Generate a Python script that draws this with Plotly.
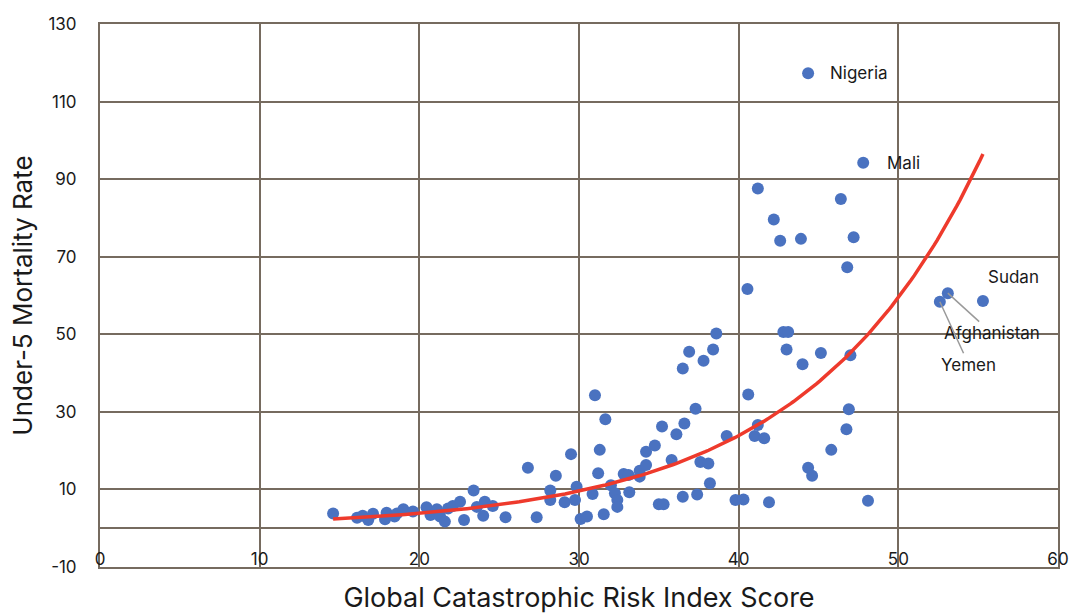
import numpy as np
import plotly.graph_objects as go

# Global Catastrophic Risk Index score vs under-5 mortality rate
gcri_score = [
    14.6, 16.1, 16.45, 16.8, 17.1, 17.85, 17.95, 18.45, 18.6, 19.0, 19.6,
    20.45, 20.7, 21.1, 21.3, 21.6, 21.8, 22.1, 22.55, 22.8, 23.4, 23.6, 24.0,
    24.1, 24.6, 25.4,
    26.8, 27.35, 28.55, 28.2, 28.2, 29.1, 29.5, 29.85, 29.75, 30.1, 30.5,
    31.0, 30.85, 31.3, 31.2, 31.65, 31.55, 32.0, 32.25, 32.4, 32.4, 32.8,
    33.15, 33.1, 33.8, 33.8, 34.2, 34.2, 34.75, 35.0, 35.3, 35.2, 35.8, 36.1,
    36.5, 36.5, 36.6, 36.9, 37.3, 37.4, 37.6, 37.8, 38.1, 38.2, 38.4, 38.6,
    39.25, 40.6, 41.2, 41.0, 41.6, 39.8, 40.3, 41.9, 42.8, 43.1, 43.0, 44.0,
    45.15, 47.0, 46.9, 46.75, 45.8, 44.35, 44.6, 48.1,
    41.2, 42.2, 42.6, 43.9, 46.4, 47.2, 46.8, 40.55,
    44.35, 47.8, 52.6, 53.1, 55.3,
]
u5_mortality = [
    3.8, 2.7, 3.2, 2.1, 3.7, 2.3, 4.0, 3.0, 3.8, 4.9, 4.3,
    5.4, 3.4, 4.9, 3.0, 1.7, 5.1, 5.7, 6.8, 2.1, 9.7, 5.5, 3.2,
    6.8, 5.7, 2.8,
    15.6, 2.8, 13.5, 9.7, 7.3, 6.7, 19.1, 10.7, 7.3, 2.4, 3.0,
    34.3, 8.8, 20.2, 14.2, 28.1, 3.6, 11.1, 9.0, 7.3, 5.5, 14.0,
    9.3, 13.7, 13.3, 14.8, 16.3, 19.7, 21.3, 6.2, 6.2, 26.2, 17.6, 24.2,
    8.1, 41.2, 27.0, 45.5, 30.8, 8.7, 17.1, 43.2, 16.7, 11.6, 46.1, 50.2,
    23.8, 34.5, 26.6, 23.8, 23.2, 7.3, 7.4, 6.7, 50.6, 50.6, 46.1, 42.3,
    45.2, 44.6, 30.7, 25.5, 20.2, 15.6, 13.5, 7.1,
    87.6, 79.6, 74.1, 74.6, 84.9, 75.0, 67.3, 61.7,
    117.3, 94.2, 58.4, 60.6, 58.6,
]

# Labelled countries
label_names = ["Nigeria", "Mali", "Sudan", "Afghanistan", "Yemen"]
label_x = [44.35, 47.8, 55.3, 53.1, 52.6]
label_y = [117.3, 94.2, 58.6, 60.6, 58.4]

x_ticks = [0, 10, 20, 30, 40, 50, 60]
y_ticks = [-10, 10, 30, 50, 70, 90, 110, 130]

# Exponential trendline (least squares on log y, as a spreadsheet trendline)
xs = np.array(gcri_score)
ys = np.array(u5_mortality)
b, ln_a = np.polyfit(xs, np.log(ys), 1)
trend_x = np.linspace(xs.min(), xs.max(), 200)
trend_y = np.exp(ln_a) * np.exp(b * trend_x)

FONT = "Inter, 'Noto Sans', sans-serif"
GRID = "#766b5f"
TXT = "#1a1a1a"

fig = go.Figure()
fig.add_trace(go.Scatter(
    x=gcri_score, y=u5_mortality, mode="markers",
    marker=dict(color="#4a72c0", size=12, line=dict(width=0)),
    showlegend=False, hoverinfo="x+y",
))
fig.add_trace(go.Scatter(
    x=trend_x, y=trend_y, mode="lines",
    line=dict(color="#ee3a2c", width=3.5),
    showlegend=False, hoverinfo="skip",
))

# text placements (pixel offsets from the point)
offsets = {
    "Nigeria": dict(showarrow=False, xanchor="left", xshift=20, yshift=0),
    "Mali": dict(showarrow=False, xanchor="left", xshift=22, yshift=0),
    "Sudan": dict(showarrow=False, xanchor="center", xshift=31, yshift=24),
    "Afghanistan": dict(showarrow=True, ax=44, ay=40),
    "Yemen": dict(showarrow=True, ax=29, ay=63),
}
for name, lx, ly in zip(label_names, label_x, label_y):
    kw = offsets[name]
    ann = dict(x=lx, y=ly, xref="x", yref="y", text=name,
               font=dict(family=FONT, size=17, color=TXT))
    if kw.get("showarrow"):
        ann.update(showarrow=True, ax=kw["ax"], ay=kw["ay"], arrowhead=0,
                   arrowwidth=1.5, arrowcolor="#9a9a9a", standoff=0,
                   startstandoff=0)
    else:
        ann.update(showarrow=False, xanchor=kw["xanchor"],
                   xshift=kw["xshift"], yshift=kw["yshift"])
    fig.add_annotation(**ann)

fig.update_layout(
    width=1071, height=614,
    margin=dict(l=100, r=13, t=24, b=47),
    paper_bgcolor="white", plot_bgcolor="white",
    font=dict(family=FONT, color=TXT),
)
fig.update_xaxes(
    range=[0, 60], tickvals=x_ticks, ticktext=[str(v) for v in x_ticks],
    showgrid=True, gridcolor=GRID, gridwidth=2,
    showline=True, mirror=True, linecolor=GRID, linewidth=2,
    zeroline=False, ticks="", ticklabelstandoff=-24, automargin=False,
    tickfont=dict(family=FONT, size=17, color=TXT),
    title=dict(text="Global Catastrophic Risk Index Score",
               font=dict(family=FONT, size=27, color=TXT), standoff=21),
)
fig.update_yaxes(
    range=[-10, 130], tickvals=y_ticks, ticktext=[str(v) for v in y_ticks],
    showgrid=True, gridcolor=GRID, gridwidth=2,
    showline=True, mirror=True, linecolor=GRID, linewidth=2,
    zeroline=True, zerolinecolor=GRID, zerolinewidth=2,
    ticks="", ticklabelstandoff=18, automargin=False,
    tickfont=dict(family=FONT, size=17, color=TXT),
    title=dict(text="Under-5 Mortality Rate",
               font=dict(family=FONT, size=26, color=TXT), standoff=8),
)

fig.write_html("out.html")
